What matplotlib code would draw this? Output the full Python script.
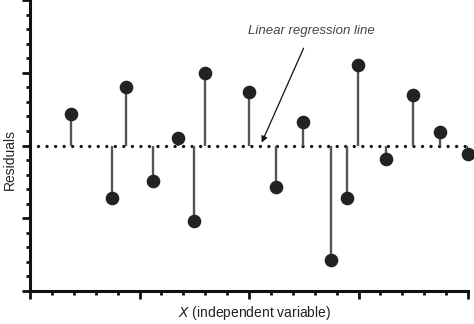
import matplotlib
matplotlib.use('Agg')
import matplotlib.pyplot as plt
from matplotlib.ticker import MultipleLocator, NullFormatter

plt.rcParams['font.family'] = ['Liberation Sans', 'DejaVu Sans']

# residual data
x_vals = [1.86, 3.76, 4.37, 5.6, 6.74, 7.49, 7.99, 9.99, 11.23, 12.48,
          13.73, 14.49, 14.99, 16.24, 17.49, 18.74, 20.0]
resid = [0.43, -0.72, 0.81, -0.49, 0.10, -1.04, 0.99, 0.73, -0.57, 0.32,
         -1.57, -0.72, 1.10, -0.19, 0.69, 0.19, -0.11]

# regression line (residual = 0)
reg_x = [0.35, 20.0]
reg_y = [0, 0]

fig = plt.figure(figsize=(4.74, 3.24), dpi=100)
ax = fig.add_axes([30/474, 1 - 291/324, 438/474, 291/324])

ax.vlines(x_vals, 0, resid, color='#555555', lw=1.7, zorder=2)
ax.plot(x_vals, resid, 'o', color='#222222', ms=8.8, zorder=3, clip_on=False)
ax.plot(reg_x, reg_y, color='#111111', lw=2.4, linestyle=(0, (0.01, 2.55)),
        dash_capstyle='round', zorder=1, clip_on=False)

ax.set_xlim(0, 20)
ax.set_ylim(-2, 2)

ax.xaxis.set_major_locator(MultipleLocator(5))
ax.xaxis.set_minor_locator(MultipleLocator(1))
ax.yaxis.set_major_locator(MultipleLocator(1))
ax.yaxis.set_minor_locator(MultipleLocator(0.2))
ax.xaxis.set_major_formatter(NullFormatter())
ax.yaxis.set_major_formatter(NullFormatter())
ax.tick_params(which='major', length=6, width=2.0, color='#111111')
ax.tick_params(which='minor', length=3, width=2.0, color='#111111')

for s in ['top', 'right']:
    ax.spines[s].set_visible(False)
for s in ['left', 'bottom']:
    ax.spines[s].set_linewidth(2.2)
    ax.spines[s].set_color('#111111')

fig.text(10/474, 1 - 160/324, 'Residuals', rotation=90, ha='center', va='center',
         fontsize=10, color='#222222')
fig.text(255/474, 1 - 313/324, r'$\it{X}$ (independent variable)', ha='center',
         va='center', fontsize=10, color='#222222')

ax.annotate('Linear regression line', xy=(10.58, 0.04), xytext=(12.85, 1.58),
            ha='center', va='center', fontsize=9.5, style='italic', color='#444444',
            arrowprops=dict(arrowstyle='-|>', color='#111111', lw=0.9,
                            mutation_scale=9, shrinkA=7, shrinkB=0))

fig.savefig('out.png', dpi=100)
